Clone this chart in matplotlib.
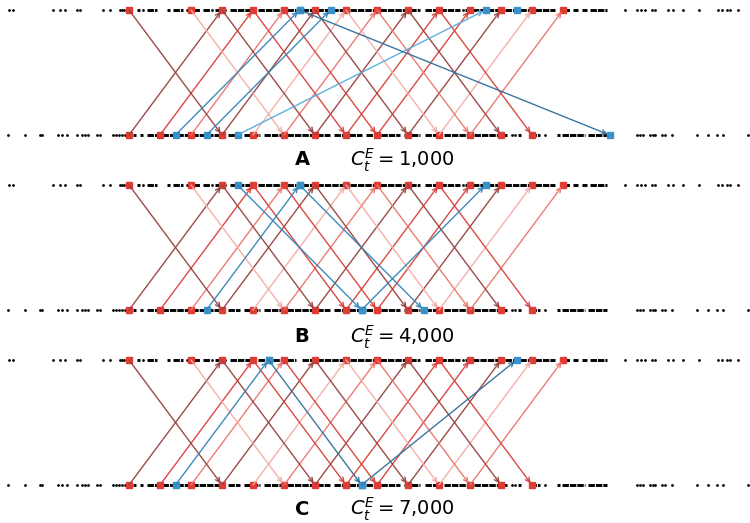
import matplotlib
matplotlib.use("Agg")
import matplotlib.pyplot as plt

# red nodes (same in every panel), time in units of one block
top_nodes = [0, 2, 3, 4, 5, 6, 7, 8, 9, 10, 11, 12, 13, 14]
bottom_nodes = [0, 1, 2, 3, 4, 5, 6, 7, 8, 9, 10, 11, 12, 13]

# red arrows: up from bottom k to top k+3, down from top k to bottom k+3
up_starts = [0, 1, 2, 3, 4, 5, 6, 7, 8, 9, 10, 11]
up_shade = ["dark", "red", "salmon", "dark", "pale", "salmon", "dark", "red", "red", "dark", "pale", "salmon"]
down_starts = [0, 2, 3, 4, 5, 6, 7, 8, 9, 10]
down_shade = ["dark", "pale", "dark", "red", "red", "dark", "pale", "salmon", "dark", "red"]
hop = 3

# blue transactions per panel: (from, from_row, to, to_row, shade)
blue_a = [(1.5, 0, 5.5, 1, "mid"), (2.5, 0, 6.5, 1, "mid"), (3.5, 0, 11.5, 1, "light"), (5.5, 1, 15.5, 0, "dark")]
blue_b = [(2.5, 0, 5.5, 1, "mid"), (5.5, 1, 9.5, 0, "mid"), (3.5, 1, 7.5, 0, "mid"), (7.5, 0, 11.5, 1, "mid")]
blue_c = [(1.5, 0, 4.5, 1, "mid"), (4.5, 1, 7.5, 0, "dark"), (7.5, 0, 12.5, 1, "dark")]
blue_extra_a = [(12.5, 1)]
panel_letters = ["A", "B", "C"]
panel_costs = ["1{,}000", "4{,}000", "7{,}000"]

# background events (black), isolated dots and dense stretches
top_dots = [-3.87, -3.74, -2.45, -2.23, -2.06, -1.68, -1.58, -0.84, -0.61, -0.29, -0.23, -0.16, -0.06,
            0.45, 1.87, 2.68, 3.10, 5.03, 8.03, 10.77,
            16.00, 16.39, 16.52, 16.65, 16.87, 16.97, 17.39, 17.55, 17.87, 18.39, 19.00, 19.13, 19.29,
            19.39, 19.65]
top_runs = [(0.26, 0.35), (0.58, 0.90), (1.23, 1.32), (1.42, 1.74), (2.06, 2.29), (2.39, 2.61),
            (2.77, 2.94), (3.26, 4.00), (4.16, 4.97), (5.10, 5.39), (5.58, 6.97), (7.13, 7.94),
            (8.10, 9.39), (9.55, 10.68), (10.84, 11.97), (12.13, 12.94), (13.10, 13.74),
            (14.00, 14.23), (14.32, 14.48), (14.61, 14.77), (14.87, 15.42)]
bottom_dots = [-3.90, -3.35, -2.87, -2.81, -2.29, -2.16, -2.00, -1.68, -1.52, -1.42, -1.32, -1.03,
               -0.94, -0.52, -0.42, -0.32, -0.23, -0.13, 12.35, 12.45, 13.42,
               16.39, 16.48, 16.58, 16.81, 16.90, 16.97, 17.19, 17.29, 17.52, 18.32, 18.68, 18.97,
               19.16, 19.97]
bottom_runs = [(0.13, 0.23), (0.35, 0.45), (0.58, 0.90), (1.06, 3.10), (3.19, 3.58), (3.71, 4.23),
               (4.35, 4.97), (5.10, 6.48), (6.61, 6.97), (7.10, 7.52), (7.65, 8.74), (8.87, 9.39),
               (9.55, 10.03), (10.16, 11.00), (11.13, 12.19), (12.55, 12.65), (12.94, 13.26),
               (13.81, 13.90), (13.97, 14.71), (14.81, 15.42)]

red_colours = {"dark": "#95423f", "red": "#d8403a", "salmon": "#e9756d", "pale": "#f3aca6"}
blue_colours = {"dark": "#306f9c", "mid": "#3584b9", "light": "#55acdf"}
red_node = "#e03c36"
blue_node = "#3a92cb"

fig = plt.figure(figsize=(7.5, 5.23), dpi=100)
# (bottom, height) of each panel so y=1 is the top row and y=0 the bottom row
panel_boxes = [(0.7419, 0.2390), (0.4073, 0.2390), (0.0727, 0.2390)]
label_offsets = [-0.2, -0.215, -0.195]
blue_sets = [blue_a, blue_b, blue_c]
extra_sets = [blue_extra_a, [], []]


def arrow(ax, x0, y0, x1, y1, colour):
    ax.annotate("", xy=(x1, y1), xytext=(x0, y0), annotation_clip=False,
                arrowprops=dict(arrowstyle="->", color=colour, lw=1.0, shrinkA=0, shrinkB=1.5,
                                mutation_scale=8, alpha=0.95), zorder=4)


for i_panel in range(3):
    b, h = panel_boxes[i_panel]
    ax = fig.add_axes([0, b, 1, h])
    ax.set_xlim(-129 / 31, 621 / 31)
    ax.set_ylim(0, 1)
    ax.axis("off")

    # background events
    for row, dots, runs in [(1, top_dots, top_runs), (0, bottom_dots, bottom_runs)]:
        ax.plot(dots, [row] * len(dots), "o", color="black", markersize=2.0, markeredgewidth=0,
                clip_on=False, zorder=1)
        for r0, r1 in runs:
            ax.plot([r0, r1], [row, row], color="black", lw=2.1, solid_capstyle="butt",
                    dash_capstyle="butt", linestyle=(0, (2.2, 0.35)), clip_on=False, zorder=1)

    # nodes
    ax.plot(top_nodes, [1] * len(top_nodes), "s", color=red_node, markersize=3.8, clip_on=False, zorder=3)
    ax.plot(bottom_nodes, [0] * len(bottom_nodes), "s", color=red_node, markersize=3.8, clip_on=False,
            zorder=3)
    blues = blue_sets[i_panel]
    bx = [t[0] for t in blues] + [t[2] for t in blues] + [e[0] for e in extra_sets[i_panel]]
    by = [t[1] for t in blues] + [t[3] for t in blues] + [e[1] for e in extra_sets[i_panel]]
    ax.plot(bx, by, "s", color=blue_node, markersize=3.8, clip_on=False, zorder=3)

    # red arrows
    for k, shade in zip(up_starts, up_shade):
        arrow(ax, k, 0, k + hop, 1, red_colours[shade])
    for k, shade in zip(down_starts, down_shade):
        arrow(ax, k, 1, k + hop, 0, red_colours[shade])
    # blue arrows
    for x0, y0, x1, y1, shade in blues:
        arrow(ax, x0, y0, x1, y1, blue_colours[shade])

    label_y = label_offsets[i_panel]
    ax.text(5.58, label_y, panel_letters[i_panel], fontsize=14, fontweight="bold", ha="center",
            va="center")
    ax.text(7.13, label_y, r"$C_t^E = %s$" % panel_costs[i_panel], fontsize=14, ha="left",
            va="center")

fig.savefig("out.png", dpi=100)
